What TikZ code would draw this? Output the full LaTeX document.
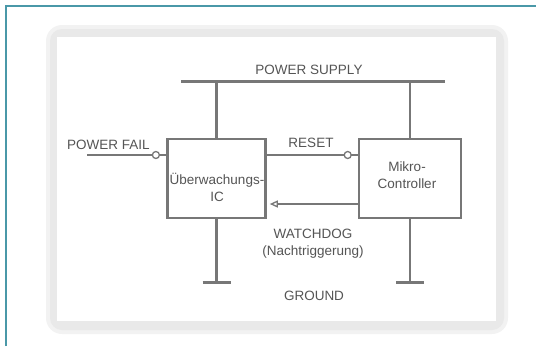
\documentclass[tikz,border=0pt]{standalone}
\usepackage{fontspec}
\newfontfamily\helv{Liberation Sans}
\usetikzlibrary{arrows.meta, positioning}
\definecolor{frameteal}{HTML}{4A98A8}
\definecolor{wire}{HTML}{777777}
\definecolor{ink}{HTML}{555555}
\definecolor{panelbg}{HTML}{E9E9E9}
\tikzset{
  % leitungen
  sig/.style={line width=2.6pt, wire},
  bus/.style={line width=3pt, wire},
  % baustein
  unit/.style={draw=wire, line width=2.6pt, fill=white, minimum width=98pt,
    minimum height=79pt, inner sep=0pt},
  % beschriftung
  lbl/.style={font=\helv\fontsize{13.5}{17}\selectfont, text=ink, align=center, inner sep=0pt},
  % invertierter eingang
  bubble/.style={circle, draw=wire, line width=1.3pt, fill=white, minimum size=7pt, inner sep=0pt},
}
\begin{document}
\begin{tikzpicture}[x=1pt, y=-1pt]
  \useasboundingbox (0,0) rectangle (536,346);
  % rahmen und hintergrund
  \draw[frameteal, line width=1.4pt] (6,346) -- (6,6) -- (536,6);
  \fill[panelbg!60, rounded corners=16pt] (46,25) rectangle (508,334);
  \fill[panelbg, rounded corners=12pt] (50,29) rectangle (504,330);
  \fill[white] (57,37) rectangle (496,321);
  % bausteine
  \node[unit] (ueb) at (216.5,178.5) {};
  \node[lbl] at (217,187.5) {\"Uberwachungs-\\IC};
  \node[unit, minimum width=102pt] (mc) at (410,178.5) {};
  \node[lbl] at (407,175.5) {Mikro-\\Controller};
  % versorgung
  \coordinate (vccL) at (181,81);
  \coordinate (vccR) at (445,81);
  \draw[bus] (vccL) -- (vccR);
  \node[lbl] (vcc) at (309,70) {POWER SUPPLY};
  \draw[sig] (ueb.north) -- (ueb.north |- vccL);
  \draw[sig] (mc.north) -- (mc.north |- vccL);
  % masse
  \coordinate (gndL) at (216.5,282);
  \coordinate (gndR) at (410,282);
  \draw[sig] (ueb.south) -- (gndL);
  \draw[sig] (mc.south) -- (gndR);
  \draw[bus] ([xshift=-14pt]gndL) -- ([xshift=14pt]gndL);
  \draw[bus] ([xshift=-14pt]gndR) -- ([xshift=14pt]gndR);
  \node[lbl] (gnd) at (314,296) {GROUND};
  % signale
  \coordinate (pf) at (87,155);
  \node[lbl, anchor=south west] (pflbl) at (67,150) {POWER FAIL};
  \draw[sig] (pf) -- (ueb.west |- pf) node[bubble, pos=0.87] {};
  \draw[sig] (ueb.east |- pf) -- (mc.west |- pf) node[bubble, pos=0.89] {};
  \node[lbl] (rst) at (311,143) {RESET};
  \draw[sig, {Triangle[open, length=8pt, width=7pt, line width=1.3pt]}-, shorten <=3pt]
    (ueb.east |- 0,204) -- (mc.west |- 0,204);
  \node[lbl] (wd) at (313,244) {WATCHDOG\\(Nachtriggerung)};
\end{tikzpicture}
\end{document}
